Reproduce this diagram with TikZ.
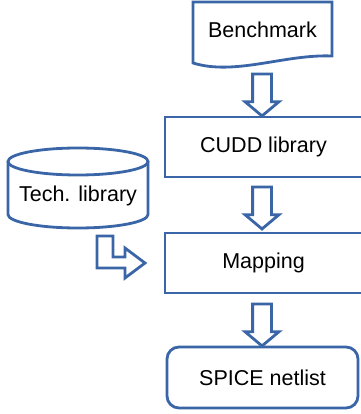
\documentclass[tikz,border=0pt]{standalone}
\usepackage{fontspec}
\setmainfont{Liberation Sans}
\usetikzlibrary{shapes.arrows}
\definecolor{flowblue}{RGB}{58,101,167}

\begin{document}
\begin{tikzpicture}[x=1pt,y=-1pt,line width=2.8pt,
  lbl/.style={inner sep=0pt,font=\fontsize{21.5}{25}\selectfont},
  box/.style={lbl,draw=flowblue,fill=white,minimum width=197pt,minimum height=60pt},
  hollow/.style={single arrow,draw=flowblue,fill=white,rotate=-90,inner sep=8pt,
    minimum height=42pt,single arrow head extend=7.5pt,single arrow tip angle=100}]
\useasboundingbox (0,0) rectangle (360,414);
\draw[flowblue] (193,2)--(332,2)--(332,56) .. controls (285,54) and (235,76) .. (193,63)--cycle;
\node[lbl] (bench) at (262.5,30) {Benchmark};
\node[box] (cudd) at (263.5,147) {CUDD library};
\node[box] (mapping) at (263.5,263) {Mapping};
\node[box,minimum width=191pt,minimum height=61pt,rounded corners=12pt] (spice) at (262.5,377.5) {SPICE netlist};
\node[hollow] (a1) at (262,91) {};
\node[hollow] (a2) at (262,204) {};
\node[hollow] (a3) at (262,321) {};
\draw[flowblue] (78,161.5) ellipse (70 and 13.5);
\draw[flowblue] (8,161.5)--(8,214.5) arc (180:0:70 and 13.5)--(148,161.5);
\node[lbl] (tech) at (78,196) {Tech. library};
\coordinate (lturn) at (97,236);
\draw[flowblue] (lturn)--++(16,0)--++(0,21)--++(12,0)--++(0,-9)--++(20,15)--++(-20,15)--++(0,-10)--++(-28,0)--cycle;
\end{tikzpicture}
\end{document}
